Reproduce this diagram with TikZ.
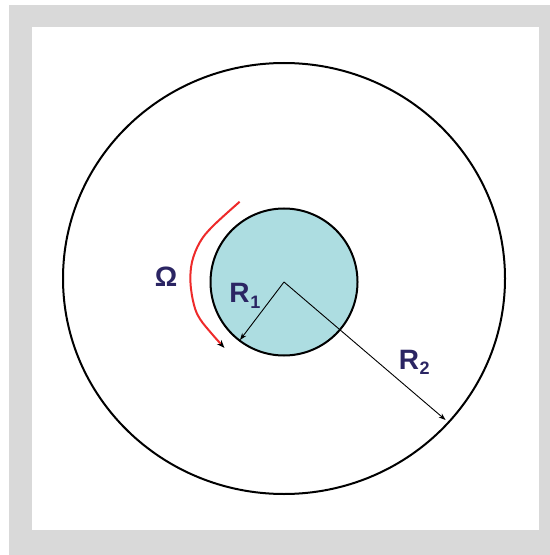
\documentclass[tikz,border=0pt]{standalone}
\usepackage{fontspec}
\setmainfont{Liberation Sans}
\usetikzlibrary{arrows.meta}
\definecolor{frame}{HTML}{D9D9D9}
\definecolor{core}{HTML}{ADDDE1}
\definecolor{lab}{HTML}{2B2563}
\definecolor{flow}{HTML}{EE2A2A}
\tikzset{
  ring/.style={draw=black, line width=2bp},
  radius arrow/.style={draw=black, line width=0.9bp, -{Stealth[length=7bp,width=5bp]}},
  biglab/.style={text=lab, inner sep=0pt, font=\fontsize{28bp}{30bp}\selectfont\bfseries},
  sublab/.style={text=lab, inner sep=0pt, font=\fontsize{18bp}{20bp}\selectfont\bfseries},
}
\begin{document}
\begin{tikzpicture}[x=1bp, y=-1bp]
\useasboundingbox (0,0) rectangle (550,555);
\fill[frame] (9,5) rectangle (550,555);
\fill[white] (31.6,27) rectangle (539,530);
\draw[ring] (284,278.5) ellipse [x radius=221, y radius=215.5];
\draw[ring, fill=core] (284,282) circle [radius=73.5];
\coordinate (c) at (284,282);
\coordinate (p1) at (240,340);
\coordinate (p2) at (445.6,420);
\draw[radius arrow] (c) -- (p1);
\draw[radius arrow] (c) -- (p2);
\draw[flow, line width=2bp, -{Stealth[black,length=8bp,width=6bp]}]
  plot[smooth, tension=0.6] coordinates {(239.6,201.8) (213,226) (200,242) (192,262) (190.5,283) (194,305) (200,319) (212,334) (224.5,348)};
\node[biglab] (om) at (166,277) {Ω};
\node[biglab] (r1) at (239.5,293) {R};
\node[sublab] (r1s) at (255.5,302.5) {1};
\node[biglab] (r2) at (409,359.5) {R};
\node[sublab] (r2s) at (424.5,368) {2};
\end{tikzpicture}
\end{document}
